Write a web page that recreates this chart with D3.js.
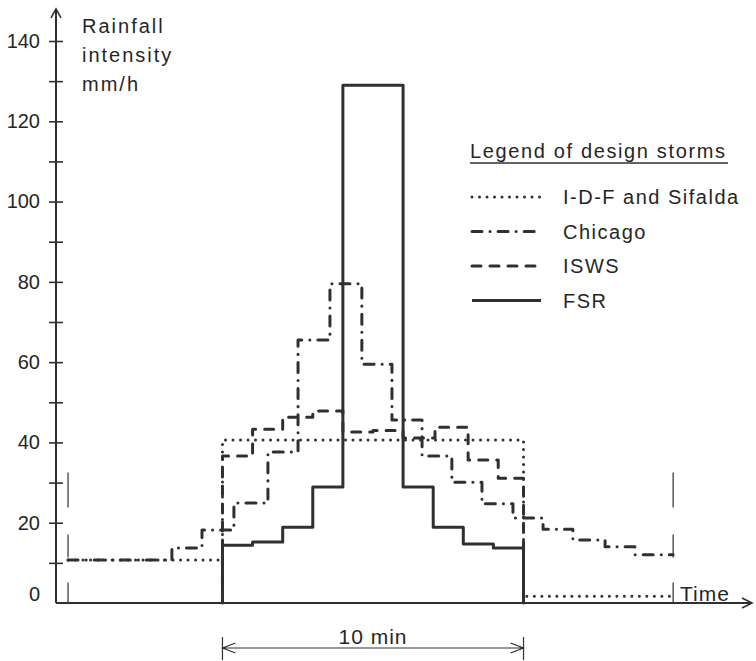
<!DOCTYPE html>
<html>
<head>
<meta charset="utf-8">
<script src="https://cdnjs.cloudflare.com/ajax/libs/d3/7.8.5/d3.min.js"></script>
<style>
    body { margin: 0; background: #fff; }
    svg text { font-family: 'Liberation Sans', Arial, sans-serif; fill: #262626; }
</style>
</head>
<body>
<div class="graph"></div>
<script>
//data: time in min from start of the 10 min storm, intensity in mm/h//
let idfTimes = [-5.13, 0, 10, 14.97];
let idfValues = [10.7, 40.6, 1.7];

let chicagoTimes = [-5.13, -1.68, -0.68, 0.38, 1.51, 2.51, 3.57, 4.63, 5.63, 6.63, 7.62, 8.62, 9.65, 10.65, 11.64, 12.71, 13.70, 14.97];
let chicagoValues = [10.7, 13.7, 18.2, 24.9, 37.6, 65.5, 79.5, 59.5, 45.6, 36.6, 30.1, 24.7, 21.2, 18.4, 15.7, 14.0, 12.0];

let iswsTimes = [0, 1, 2, 3, 4, 5, 6, 7.06, 8.16, 9.16, 10];
let iswsValues = [36.6, 43.3, 46.3, 47.8, 42.6, 43.0, 41.1, 43.8, 35.6, 31.1];

let fsrTimes = [0, 1, 2, 3, 4, 6, 7, 8, 9, 10];
let fsrValues = [14.4, 15.2, 18.9, 28.9, 129, 28.9, 18.9, 14.7, 13.7];

let markerTimes = [-5.13, 14.97];
let markerTop = 32.5;

let yTicks = [0, 10, 20, 30, 40, 50, 60, 70, 80, 90, 100, 110, 120, 130, 140];
let yLabels = [0, 20, 40, 60, 80, 100, 120, 140];

let legendNames = ['I-D-F and Sifalda', 'Chicago', 'ISWS', 'FSR'];

//various constants//
let w = 756;
let h = 661;
let ink = '#303030';
let dashes = {
    'I-D-F and Sifalda': '0,7.5',
    'Chicago': '10,8,0.1,8',
    'ISWS': '9,9',
    'FSR': null
};

let xScale = d3.scaleLinear()
    .domain([-5.53, 17.59])
    .range([56, 752]);

let yScale = d3.scaleLinear()
    .domain([0, 140])
    .range([603, 41]);

let svg = d3.select('.graph')
    .append('svg')
    .attr('width', w)
    .attr('height', h);

//step outline from block edges and block values//
function steps(times, values, startBase, endBase) {
    let pts = [];
    if (startBase !== null) pts.push([times[0], startBase]);
    values.forEach((v, i) => {
        pts.push([times[i], v]);
        pts.push([times[i + 1], v]);
    });
    if (endBase !== null) pts.push([times[times.length - 1], endBase]);
    return pts;
}

let line = d3.line()
    .x(d => xScale(d[0]))
    .y(d => yScale(d[1]));

let series = [
    { name: 'I-D-F and Sifalda', pts: steps(idfTimes, idfValues, null, null) },
    { name: 'Chicago', pts: steps(chicagoTimes, chicagoValues, null, null) },
    { name: 'ISWS', pts: steps(iswsTimes, iswsValues, 0, 0) },
    { name: 'FSR', pts: steps(fsrTimes, fsrValues, 0, 0) }
];

//thin marks at the start and end of the long storms//
svg.selectAll('.marker')
    .data(markerTimes)
    .enter()
    .append('line')
    .attr('class', 'marker')
    .attr('x1', d => xScale(d))
    .attr('x2', d => xScale(d))
    .attr('y1', yScale(markerTop))
    .attr('y2', yScale(0))
    .attr('stroke', ink)
    .attr('stroke-width', 1.2)
    .attr('stroke-dasharray', '35,27,23,25,20');

svg.selectAll('.storm')
    .data(series)
    .enter()
    .append('path')
    .attr('class', 'storm')
    .attr('d', d => line(d.pts))
    .attr('fill', 'none')
    .attr('stroke', ink)
    .attr('stroke-width', 3)
    .attr('stroke-linecap', d => d.name === 'FSR' ? 'butt' : 'round')
    .attr('stroke-linejoin', 'round')
    .attr('stroke-dasharray', d => dashes[d.name]);

//axes//
let yAxis = d3.axisLeft(yScale)
    .tickValues(yTicks)
    .tickSize(7)
    .tickPadding(9)
    .tickFormat(d => yLabels.includes(d) ? d : '');

let gy = svg.append('g')
    .attr('transform', 'translate(56, 0)')
    .call(yAxis);

gy.select('.domain').remove();
gy.selectAll('.tick line')
    .attr('x1', 7)
    .attr('stroke', ink)
    .attr('stroke-width', 1.6)
    .attr('opacity', d => d === 0 ? 0 : 1);
gy.selectAll('.tick text')
    .attr('font-size', 20)
    .attr('font-family', null)
    .attr('dy', d => d === 0 ? '-0.15em' : '0.32em');

svg.append('path')
    .attr('d', `M56,${yScale(0)}V${yScale(148)}M${xScale(-5.53)},${yScale(0)}H${xScale(17.59)}`)
    .attr('stroke', ink)
    .attr('stroke-width', 2)
    .attr('fill', 'none');

svg.append('path')
    .attr('d', `M51,${yScale(148) + 9}L56,${yScale(148)}L61,${yScale(148) + 9}` +
        `M${xScale(17.59) - 10},${yScale(0) - 5}L${xScale(17.59)},${yScale(0)}L${xScale(17.59) - 10},${yScale(0) + 5}`)
    .attr('stroke', ink)
    .attr('stroke-width', 1.6)
    .attr('fill', 'none');

let yTitle = ['Rainfall', 'intensity', 'mm/h'];
svg.selectAll('.ytitle')
    .data(yTitle)
    .enter()
    .append('text')
    .attr('class', 'ytitle')
    .attr('x', 82)
    .attr('y', (d, i) => 33 + i * 29)
    .attr('font-size', 20)
    .attr('letter-spacing', 2)
    .text(d => d);

svg.append('text')
    .attr('x', 680)
    .attr('y', 601)
    .attr('font-size', 21)
    .attr('letter-spacing', 1)
    .text('Time');

//10 min dimension line//
let dimY = 648;
let d0 = xScale(0);
let d1 = xScale(10);
svg.append('path')
    .attr('d', `M${d0},${dimY}H${d1}M${d0},637V660M${d1},637V660` +
        `M${d0 + 13},${dimY - 5}L${d0},${dimY}L${d0 + 13},${dimY + 5}` +
        `M${d1 - 13},${dimY - 5}L${d1},${dimY}L${d1 - 13},${dimY + 5}`)
    .attr('stroke', ink)
    .attr('stroke-width', 1.2)
    .attr('fill', 'none');

svg.append('text')
    .attr('x', (d0 + d1) / 2)
    .attr('y', 644)
    .attr('text-anchor', 'middle')
    .attr('font-size', 21)
    .attr('letter-spacing', 1)
    .text('10 min');

//legend//
svg.append('text')
    .attr('x', 470)
    .attr('y', 158)
    .attr('font-size', 20)
    .attr('textLength', 255)
    .attr('lengthAdjust', 'spacing')
    .text('Legend of design storms');

svg.append('line')
    .attr('x1', 470)
    .attr('x2', 728)
    .attr('y1', 163)
    .attr('y2', 163)
    .attr('stroke', ink)
    .attr('stroke-width', 1.5);

let legend = svg.selectAll('.legend')
    .data(legendNames)
    .enter()
    .append('g')
    .attr('class', 'legend')
    .attr('transform', (d, i) => `translate(0, ${197 + i * 34.5})`);

legend.append('line')
    .attr('x1', 472)
    .attr('x2', 541)
    .attr('stroke', ink)
    .attr('stroke-width', 3)
    .attr('stroke-linecap', d => d === 'FSR' ? 'butt' : 'round')
    .attr('stroke-dasharray', d => dashes[d]);

legend.append('text')
    .attr('x', 563)
    .attr('dy', '0.35em')
    .attr('font-size', 20)
    .attr('letter-spacing', 1.5)
    .text(d => d);
</script>
</body>
</html>
